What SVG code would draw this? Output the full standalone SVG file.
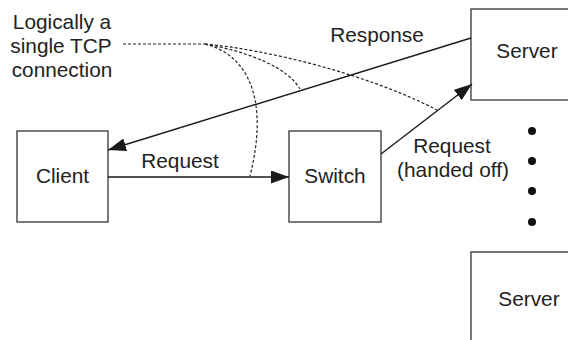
<svg xmlns="http://www.w3.org/2000/svg" width="568" height="340" viewBox="0 0 568 340">
<defs>
<marker id="ah" markerUnits="userSpaceOnUse" markerWidth="18" markerHeight="13" refX="18" refY="6.5" orient="auto">
<path d="M0,0 L18,6.5 L0,13 z" fill="#1a1a1a"/>
</marker>
<style>
.box{fill:#fff;stroke:#333;stroke-width:1.3}
.t{font-family:"Liberation Sans",Arial,sans-serif;font-size:20.8px;fill:#222;text-anchor:middle}
.ln{stroke:#1a1a1a;stroke-width:1.4;fill:none}
.ds{stroke:#222;stroke-width:1.2;fill:none;stroke-dasharray:3 2}
</style>
</defs>
<rect width="568" height="340" fill="#fff"/>
<g id="client"><rect class="box" x="17" y="131" width="91" height="91"/><text class="t" x="62.5" y="183">Client</text></g>
<g id="switch"><rect class="box" x="289" y="131" width="92" height="91"/><text class="t" x="335" y="183">Switch</text></g>
<g id="server1"><rect class="box" x="471" y="9" width="110" height="91"/><text class="t" x="527" y="58">Server</text></g>
<g id="server2"><rect class="box" x="471" y="252" width="110" height="100"/><text class="t" x="529" y="306">Server</text></g>
<g id="dots" fill="#111"><circle cx="532" cy="131" r="4"/><circle cx="532" cy="161" r="4"/><circle cx="532" cy="191" r="4"/><circle cx="532" cy="222" r="4"/></g>
<g id="label"><text class="t" x="62" y="29">Logically a</text><text class="t" x="61" y="53">single TCP</text><text class="t" x="62" y="77">connection</text></g>
<g id="connectors">
<line class="ln" x1="108" y1="177" x2="289" y2="177" marker-end="url(#ah)"/>
<line class="ln" x1="471" y1="38" x2="108" y2="150" marker-end="url(#ah)"/>
<line class="ln" x1="381" y1="154" x2="472" y2="84" marker-end="url(#ah)"/>
<path class="ds" d="M123,44 L205,44"/>
<path class="ds" d="M205,44 C252,56 268,105 250,176"/>
<path class="ds" d="M205,44 C250,52 288,68 300,89"/>
<path class="ds" d="M205,44 C270,50 370,75 437,110"/>
<text class="t" x="180" y="168">Request</text>
<text class="t" x="377" y="42">Response</text>
<text class="t" x="452" y="153">Request</text>
<text class="t" x="453" y="177">(handed off)</text>
</g>
</svg>
